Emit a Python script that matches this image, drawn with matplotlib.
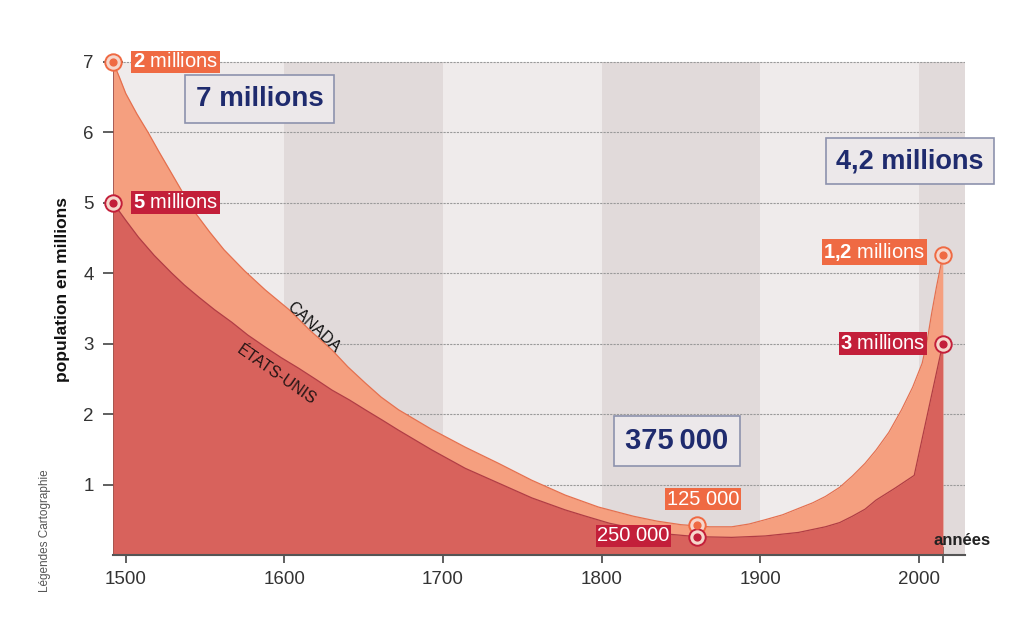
#!/usr/bin/env python3
"""Native population of North America, 1492 - today (Canada vs Etats-Unis)."""

import matplotlib
matplotlib.use("Agg")
import matplotlib.pyplot as plt

# ── Data (millions) ────────────────────────────────────────────────────────
TOTAL_YEARS = [1492, 1496, 1500, 1507, 1514, 1521, 1528, 1536, 1544, 1553,
               1562, 1575, 1588, 1603, 1616, 1630, 1640, 1651, 1661, 1672,
               1693, 1714, 1735, 1756, 1777, 1798, 1820, 1835, 1850, 1868,
               1882, 1893, 1903, 1914, 1924, 1933, 1941, 1950, 1958, 1966,
               1973, 1981, 1989, 1996, 2002, 2005, 2008, 2011, 2015]
TOTAL_POP = [7.0, 6.78, 6.55, 6.26, 6.0, 5.72, 5.45, 5.14, 4.85, 4.58,
             4.33, 4.03, 3.76, 3.48, 3.19, 2.91, 2.67, 2.44, 2.24, 2.06,
             1.78, 1.53, 1.30, 1.06, 0.85, 0.68, 0.55, 0.48, 0.43, 0.40,
             0.40, 0.44, 0.50, 0.57, 0.66, 0.74, 0.83, 0.96, 1.12, 1.30,
             1.49, 1.74, 2.06, 2.38, 2.72, 3.02, 3.43, 3.80, 4.25]

US_YEARS = [1492, 1500, 1508, 1518, 1529, 1537, 1546, 1556, 1567, 1577,
            1588, 1598, 1609, 1620, 1630, 1641, 1651, 1662, 1672, 1693,
            1714, 1735, 1756, 1777, 1790, 1805, 1820, 1840, 1860, 1882,
            1903, 1924, 1941, 1950, 1958, 1966, 1973, 1985, 1997, 2015]
US_POP = [5.0, 4.75, 4.51, 4.25, 4.0, 3.83, 3.66, 3.48, 3.3, 3.12,
          2.95, 2.80, 2.65, 2.49, 2.34, 2.20, 2.06, 1.91, 1.77, 1.49,
          1.23, 1.02, 0.81, 0.64, 0.55, 0.45, 0.38, 0.30, 0.26, 0.25,
          0.27, 0.32, 0.40, 0.46, 0.55, 0.65, 0.78, 0.95, 1.13, 3.0]

# marked points
MARK_YEARS = [1492, 1860, 2015]
MARK_TOTAL = [7.0, 0.42, 4.25]
MARK_US = [5.0, 0.26, 3.0]

CANADA_LABELS = ["2 millions", "125 000", "1,2 millions"]
US_LABELS = ["5 millions", "250 000", "3 millions"]
TOTAL_LABELS = ["7 millions", "375\u2009000", "4,2 millions"]

BAND_EDGES = [1492, 1600, 1700, 1800, 1900, 2000, 2029]
X_TICKS = [1500, 1600, 1700, 1800, 1900, 2000]
Y_TICKS = [1, 2, 3, 4, 5, 6, 7]
# ───────────────────────────────────────────────────────────────────────────

ORANGE_FILL = "#f59f7f"
ORANGE_EDGE = "#e5704f"
ORANGE_BOX = "#ef6a43"
RED_FILL = "#d8625c"
RED_EDGE = "#b13d45"
RED_BOX = "#c31f3a"
NAVY = "#1f2b6e"
BAND_LIGHT = "#efebeb"
BAND_DARK = "#e1dada"

plt.rcParams["font.family"] = ["Liberation Sans", "DejaVu Sans"]
plt.rcParams["mathtext.fontset"] = "custom"
plt.rcParams["mathtext.rm"] = "Liberation Sans"
plt.rcParams["mathtext.bf"] = "Liberation Sans:bold"


def bold_num(label):
    """'2 millions' -> bold number + regular word (mathtext)."""
    num, _, rest = label.partition(" ")
    if rest == "millions":
        return r"$\mathbf{" + num.replace(",", "{,}") + "}$ millions"
    return label


def main():
    fig = plt.figure(figsize=(10.2, 6.24), dpi=100)
    ax = fig.add_axes([113 / 1020, 69 / 624, 852 / 1020, 511 / 624])
    ax.set_xlim(1492, 2029)
    ax.set_ylim(0, 7.25)

    # alternating century bands
    for i in range(len(BAND_EDGES) - 1):
        ax.fill_between([BAND_EDGES[i], BAND_EDGES[i + 1]], 0, 7,
                        color=BAND_LIGHT if i % 2 == 0 else BAND_DARK,
                        lw=0, zorder=0)

    for y in Y_TICKS:
        ax.axhline(y, color="#9a9a9a", lw=0.8, ls=(0, (2, 1)), zorder=1)

    # stacked areas: total (Canada on top) then Etats-Unis
    ax.fill_between(TOTAL_YEARS, TOTAL_POP, 0, color=ORANGE_FILL, lw=0, zorder=2)
    ax.plot(TOTAL_YEARS, TOTAL_POP, color=ORANGE_EDGE, lw=0.9, zorder=2.5)
    ax.fill_between(US_YEARS, US_POP, 0, color=RED_FILL, lw=0, zorder=3)
    ax.plot(US_YEARS, US_POP, color=RED_EDGE, lw=0.9, zorder=3.5)
    ax.plot([1492, 1492], [0, 7], color="#9c4a44", lw=1.2, zorder=4)

    # ring markers
    for ys, c in ((MARK_TOTAL, ORANGE_BOX), (MARK_US, RED_BOX)):
        ax.scatter(MARK_YEARS, ys, s=140, facecolor="#f6d6cb", edgecolor=c,
                   lw=1.4, zorder=6, clip_on=False)
        ax.scatter(MARK_YEARS, ys, s=24, color=c, zorder=7, clip_on=False)

    box = dict(boxstyle="square,pad=0.08", lw=0)
    small = dict(fontsize=14.5, color="white", va="center", zorder=8)
    # left labels
    ax.text(1504.5, MARK_TOTAL[0], bold_num(CANADA_LABELS[0]), ha="left",
            bbox=dict(box, fc=ORANGE_BOX), **small)
    ax.text(1504.5, MARK_US[0], bold_num(US_LABELS[0]), ha="left",
            bbox=dict(box, fc=RED_BOX), **small)
    # middle labels
    ax.text(1864, 0.79, CANADA_LABELS[1], ha="center",
            bbox=dict(box, fc=ORANGE_BOX), **small)
    ax.text(1820, 0.27, US_LABELS[1], ha="center",
            bbox=dict(box, fc=RED_BOX), **small)
    # right labels
    ax.text(2004, 4.3, bold_num(CANADA_LABELS[2]), ha="right",
            bbox=dict(box, fc=ORANGE_BOX), **small)
    ax.text(2004, 3.0, bold_num(US_LABELS[2]), ha="right",
            bbox=dict(box, fc=RED_BOX), **small)

    # totals
    big_box = dict(boxstyle="square,pad=0.38", fc="#ece8ea", ec="#8d92ad", lw=1.2)
    for (x, y), label, fs in zip([(1584.5, 6.47), (1847.4, 1.62), (1994.3, 5.59)],
                                 TOTAL_LABELS, [20, 21, 19.5]):
        ax.text(x, y, label, ha="center", va="center", fontsize=fs,
                fontweight="bold", color=NAVY, bbox=big_box, zorder=8)

    ax.text(1618.5, 3.23, "CANADA", rotation=-43, ha="center", va="center",
            fontsize=11.5, color="#111111", zorder=8)
    ax.text(1595, 2.55, "ÉTATS-UNIS", rotation=-35, ha="center", va="center",
            fontsize=11.5, color="#241414", zorder=8)
    ax.text(2027, 0.21, "années", ha="center", va="center", fontsize=12,
            fontweight="bold", color="#222222", zorder=8)

    # axes styling
    for side in ("top", "right", "left"):
        ax.spines[side].set_visible(False)
    ax.spines["bottom"].set_color("#555555")
    ax.spines["bottom"].set_linewidth(1.5)
    ax.spines["bottom"].set_zorder(9)
    ax.set_xticks(X_TICKS)
    ax.set_xticks([2015], minor=True)
    ax.set_yticks(Y_TICKS)
    ax.tick_params(axis="x", which="both", direction="inout", length=11,
                   width=1.2, color="#444444", labelsize=13.5,
                   labelcolor="#333333", pad=6)
    ax.tick_params(axis="y", direction="inout", length=14, width=1.2,
                   color="#444444", labelsize=13.5, labelcolor="#333333", pad=7)

    fig.text(63 / 1020, 1 - 289 / 624, "population en millions", rotation=90,
             ha="center", va="center", fontsize=12.5, fontweight="bold",
             color="#111111")
    fig.text(45 / 1020, 1 - 531 / 624, "Légendes Cartographie", rotation=90,
             ha="center", va="center", fontsize=8.5, color="#555555")

    fig.savefig("out.png", dpi=100)
    plt.close(fig)


if __name__ == "__main__":
    main()
